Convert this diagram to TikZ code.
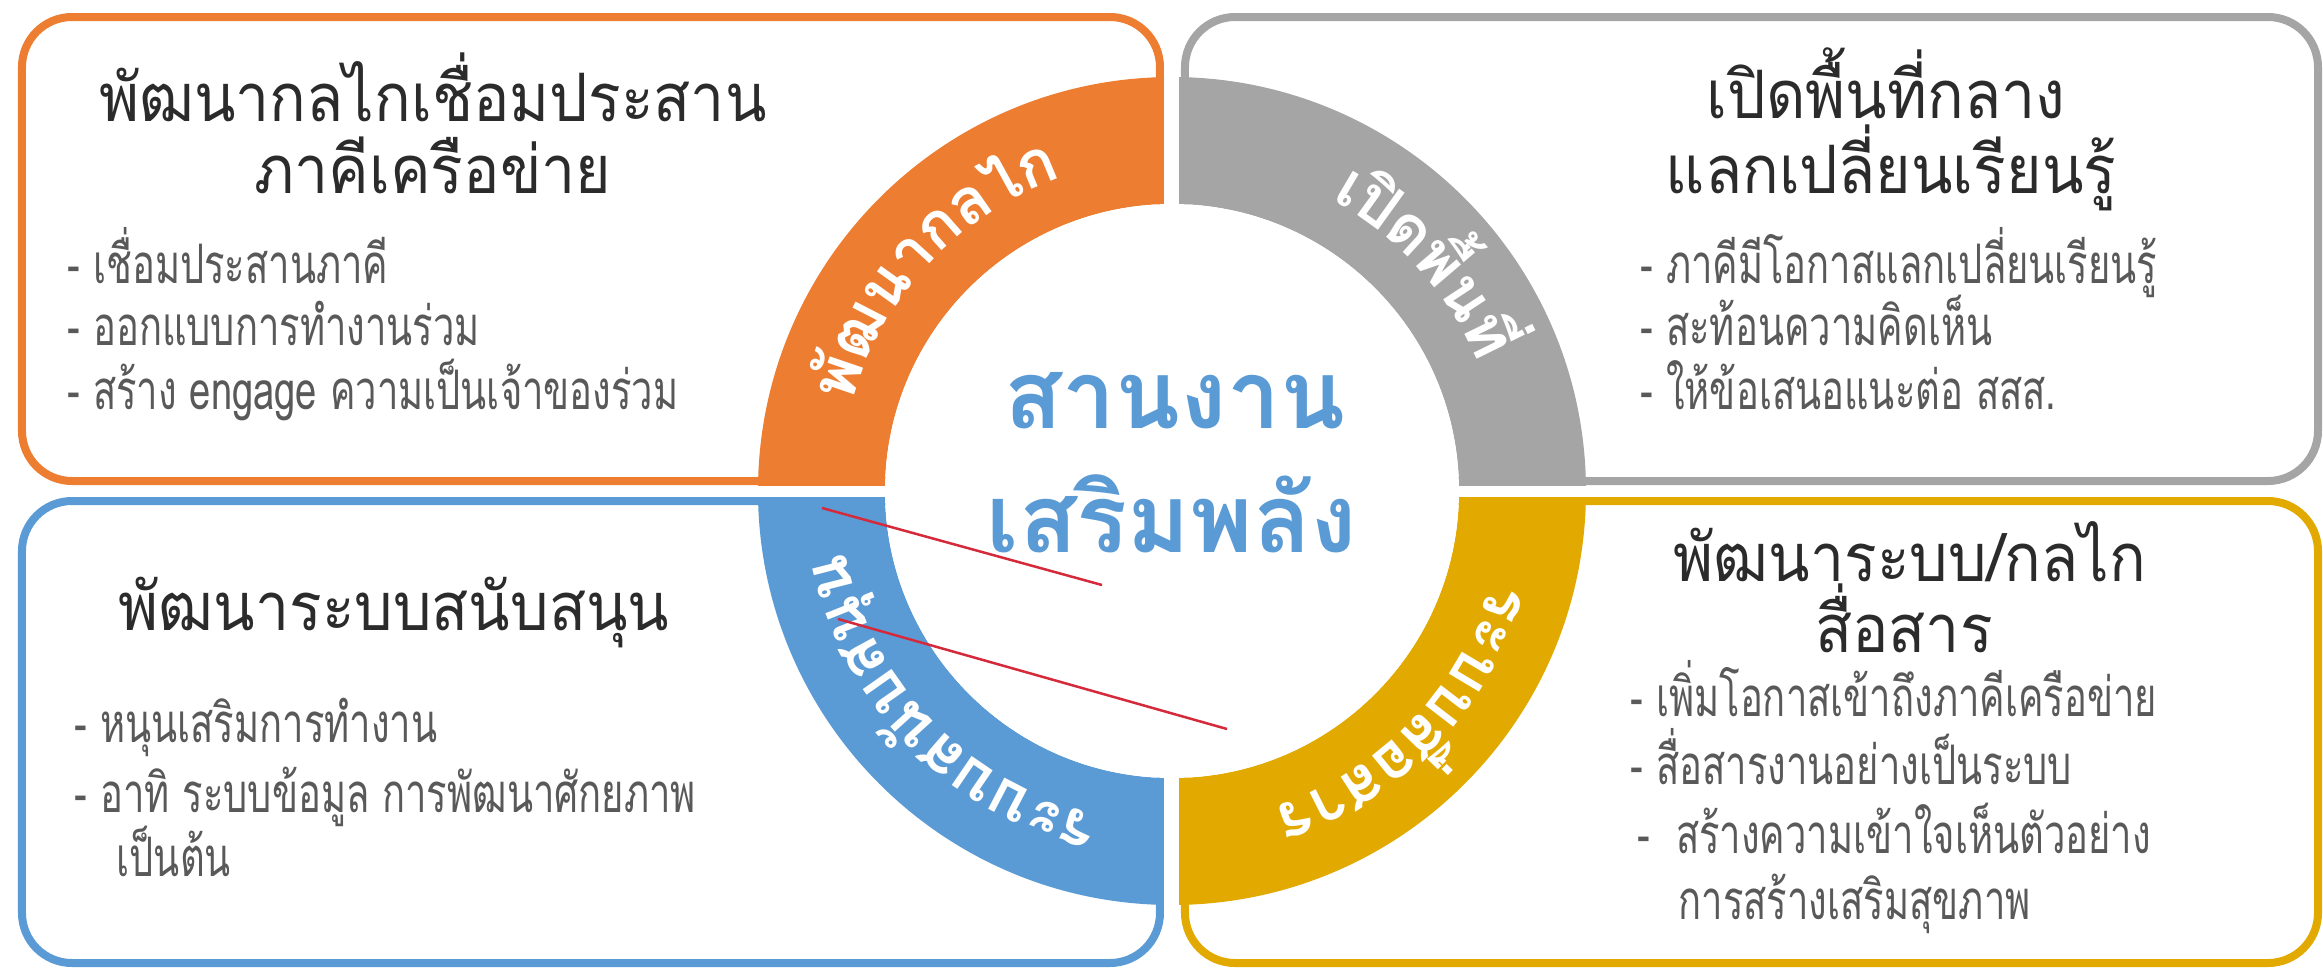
\documentclass[tikz,border=0pt]{standalone}
\usepackage{fontspec}
\newfontfamily\thaifont[Script=Thai]{Loma}
\newfontfamily\thaititle[Script=Thai,FakeStretch=0.91]{Loma}
\newfontfamily\thaicond[Script=Thai,FakeStretch=0.70]{Loma}

\definecolor{segorange}{HTML}{ED7D31}
\definecolor{seggray}{HTML}{A5A5A5}
\definecolor{segblue}{HTML}{5B9BD5}
\definecolor{seggold}{HTML}{E2AA00}
\definecolor{titlegray}{HTML}{2B2B2B}
\definecolor{bulletgray}{HTML}{595959}
\definecolor{linered}{HTML}{D42A3C}

\newcommand\titlefont{\thaititle\fontsize{19}{23}\selectfont}
\newcommand\bulletfont{\thaicond\fontsize{15.5}{18}\selectfont}
\newcommand\hubfont{\thaifont\bfseries\fontsize{27}{32}\selectfont}
\newcommand\ringtext{\thaifont\bfseries\fontsize{18}{20}\selectfont}

\tikzset{
  quadbox/.style={line width=0.08cm, rounded corners=0.5cm},
  boxtitle/.style={font=\titlefont, text=titlegray, inner sep=0pt, anchor=base},
  bullet/.style={font=\bulletfont, text=bulletgray, inner sep=0pt, anchor=base west},
  ringchar/.style={font=\ringtext, text=white, inner sep=0pt, anchor=base},
  hubtext/.style={font=\hubfont, text=segblue, inner sep=0pt, anchor=base},
  redline/.style={linered, line width=0.025cm}
}

% angle/cluster lists for the ring labels (tops outward, read clockwise)
\newsavebox\ringbox
\newdimen\ringtot
\newdimen\ringacc
\def\ringrad{96.7}
\newcommand\ringprep[3]{%
  \global\ringtot=0pt
  \foreach \g in {#3}{\sbox\ringbox{\ringtext\g}\global\advance\ringtot by\wd\ringbox}%
  \global\ringacc=0pt
  \gdef\ringlist{}%
  \foreach \g in {#3}{%
    \sbox\ringbox{\ringtext\g}%
    \edef\gw{\the\wd\ringbox}\edef\gacc{\the\ringacc}\edef\gtot{\the\ringtot}%
    \pgfmathsetmacro\ang{#2+(0.5*\gtot-\gacc-0.5*\gw)/\ringrad*180/pi}%
    \xdef\ringlist{\ringlist\ifx\ringlist\empty\else,\fi\ang/\g}%
    \global\advance\ringacc by\wd\ringbox
  }%
  \global\let#1\ringlist}

\begin{document}
\ringprep{\ringorange}{137}{พั,ฒ,น,า,ก,ล,ไ,ก}%
\ringprep{\ringgray}{42}{เ,ปิ,ด,พื้,น,ที่}%
\ringprep{\ringgold}{-44}{ร,ะ,บ,บ,สื่,อ,ส,า,ร}%
\ringprep{\ringblue}{224}{ร,ะ,บ,บ,ส,นั,บ,ส,นุ,น}%
\begin{tikzpicture}[x=0.01cm,y=0.01cm]
	% Define points
	\coordinate (O) at (0,0);
	\coordinate (R1a) at (-350,-17);
	\coordinate (R1b) at (-70,-94);
	\coordinate (R2a) at (-334,-128);
	\coordinate (R2b) at (55,-238);
	
	\useasboundingbox (-1172,-478) rectangle (1151,491);
	
	% Draw the four boxes
	\draw[quadbox,segorange] (-1150,10) rectangle (-12,474);
	\draw[quadbox,seggray] (13,10) rectangle (1146,474);
	\draw[quadbox,segblue] (-1150,-472) rectangle (-12,-10);
	\draw[quadbox,seggold] (13,-472) rectangle (1146,-10);
	
	% Draw ring
	\fill[segorange] (180:414) arc[start angle=180,end angle=90,radius=414] -- (90:287) arc[start angle=90,end angle=180,radius=287] -- cycle;
	\fill[seggray] (90:414) arc[start angle=90,end angle=0,radius=414] -- (0:287) arc[start angle=0,end angle=90,radius=287] -- cycle;
	\fill[seggold] (0:414) arc[start angle=0,end angle=-90,radius=414] -- (-90:287) arc[start angle=-90,end angle=0,radius=287] -- cycle;
	\fill[segblue] (270:414) arc[start angle=270,end angle=180,radius=414] -- (180:287) arc[start angle=180,end angle=270,radius=287] -- cycle;
	\fill[white] (O) circle (287);
	\fill[white] (-7.5,-420) rectangle (7.5,420);
	\fill[white] (-420,-6) rectangle (420,5);
	
	% Ring labels
	\foreach \a/\g [count=\i] in \ringorange
		\node[ringchar,rotate=\a-90] (ro\i) at (\a:332) {\g};
	\foreach \a/\g [count=\i] in \ringgray
		\node[ringchar,rotate=\a-90] (rg\i) at (\a:332) {\g};
	\foreach \a/\g [count=\i] in \ringgold
		\node[ringchar,rotate=\a-90] (ry\i) at (\a:332) {\g};
	\foreach \a/\g [count=\i] in \ringblue
		\node[ringchar,rotate=\a-90] (rb\i) at (\a:332) {\g};
	
	% Centre text
	\node[hubtext] (hub1) at (3,63) {สานงาน};
	\node[hubtext] (hub2) at (0,-61) {เสริมพลัง};
	
	% Top left box
	\node[boxtitle] (tl1) at (-739,370) {พัฒนากลไกเชื่อมประสาน};
	\node[boxtitle] (tl2) at (-739,298) {ภาคีเครือข่าย};
	\node[bullet] (tlb1) at (-1105,208) {- เชื่อมประสานภาคี};
	\node[bullet] (tlb2) at (-1105,146) {- ออกแบบการทำงานร่วม};
	\node[bullet] (tlb3) at (-1105,82) {- สร้าง engage ความเป็นเจ้าของร่วม};
	
	% Top right box
	\node[boxtitle] (tr1) at (714,373) {เปิดพื้นที่กลาง};
	\node[boxtitle] (tr2) at (719,298) {แลกเปลี่ยนเรียนรู้};
	\node[bullet] (trb1) at (468,208) {- ภาคีมีโอกาสแลกเปลี่ยนเรียนรู้};
	\node[bullet] (trb2) at (468,146) {- สะท้อนความคิดเห็น};
	\node[bullet] (trb3) at (468,82) {- ให้ข้อเสนอแนะต่อ สสส.};
	
	% Bottom left box
	\node[boxtitle] (bl1) at (-778,-139) {พัฒนาระบบสนับสนุน};
	\node[bullet] (blb1) at (-1098,-251) {- หนุนเสริมการทำงาน};
	\node[bullet] (blb2) at (-1098,-321) {- อาทิ ระบบข้อมูล การพัฒนาศักยภาพ};
	\node[bullet] (blb3) at (-1056,-385) {เป็นต้น};
	
	% Bottom right box
	\node[boxtitle] (br1) at (738,-90) {พัฒนาระบบ/กลไก};
	\node[boxtitle] (br2) at (732,-161) {สื่อสาร};
	\node[bullet] (brb1) at (458,-225) {- เพิ่มโอกาสเข้าถึงภาคีเครือข่าย};
	\node[bullet] (brb2) at (458,-293) {- สื่อสารงานอย่างเป็นระบบ};
	\node[bullet] (brb3) at (465,-362) {-\ \ สร้างความเข้าใจเห็นตัวอย่าง};
	\node[bullet] (brb4) at (506,-428) {การสร้างเสริมสุขภาพ};
	
	% Draw red lines
	\draw[redline] (R1a) -- (R1b);
	\draw[redline] (R2a) -- (R2b);
\end{tikzpicture}
\end{document}
